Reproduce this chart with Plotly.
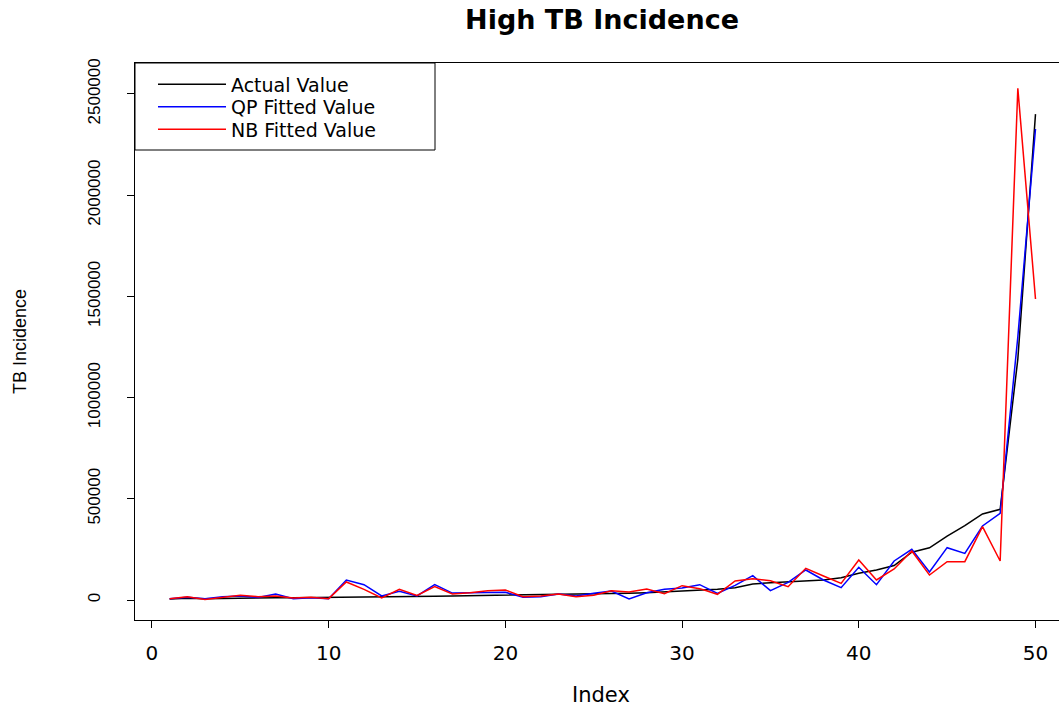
import plotly.graph_objects as go

# Index of each observation
index = list(range(1, 51))

# Observed TB incidence
actual = [5000, 9000, 6000, 8000, 9000, 10000, 11000, 11500, 12000, 12500,
          13000, 14000, 15000, 16000, 17000, 18000, 20000, 21000, 22000, 23000,
          24000, 25000, 26000, 27000, 28000, 30000, 33000, 36000, 40000, 44000,
          48000, 53000, 60000, 79000, 85000, 90000, 94000, 99000, 110000, 132000,
          148000, 170000, 236000, 258000, 316000, 367000, 425000, 448000, 1190000, 2400000]

# Quasi-Poisson fitted values
qp_fitted = [6600, 13000, 6600, 16500, 19800, 13000, 29600, 6600, 11000, 6600,
             98800, 75700, 19800, 42800, 19800, 75700, 34000, 36200, 37900, 37900,
             13200, 16500, 29600, 19800, 32900, 44500, 4900, 36200, 52700, 59300,
             75700, 32900, 72500, 120200, 46100, 87300, 148200, 98800, 60900, 161400,
             75700, 192700, 250300, 138300, 258500, 230500, 365600, 428100, 1300000, 2326700]

# Negative binomial fitted values
nb_fitted = [6600, 16500, 2000, 13200, 23000, 16500, 19800, 9900, 13200, 6600,
             88900, 52700, 9900, 52700, 23000, 65900, 29600, 36200, 46100, 49400,
             16500, 19800, 29600, 16500, 23000, 46100, 39500, 54300, 31300, 70800,
             56000, 28000, 93900, 105000, 95500, 65900, 156400, 118600, 82300, 197600,
             98800, 153100, 242100, 123500, 189400, 189400, 362300, 192700, 2527600, 1487000]

x_ticks = [0, 10, 20, 30, 40, 50]
y_ticks = [0, 500000, 1000000, 1500000, 2000000, 2500000]
y_tick_labels = [str(v) for v in y_ticks]

series_names = ["Actual Value", "QP Fitted Value", "NB Fitted Value"]
series_colors = ["black", "#0000FF", "#FF0000"]
series_values = [actual, qp_fitted, nb_fitted]

W, H = 1060, 708
ML, MR, MT, MB = 135, 1, 63, 88
PW, PH = W - ML - MR, H - MT - MB


def px_x(p):
    return (p - ML) / PW


def px_y(p):
    return (H - MB - p) / PH


fig = go.Figure()
legend_ids = ["legend", "legend2", "legend3"]
for name, color, vals, lid in zip(series_names, series_colors, series_values, legend_ids):
    fig.add_trace(go.Scatter(
        x=index, y=vals, mode="lines", name=name,
        line=dict(color=color, width=1.5),
        legend=lid,
    ))

# one legend per row so the rows can sit as tightly as in a base-R legend box
legend_font = dict(family="DejaVu Sans", size=19, color="black")
row_centres = [84.5, 107, 129.5]
legend_layout = {}
for lid, yc in zip(legend_ids, row_centres):
    legend_layout[lid] = dict(
        x=px_x(153), y=px_y(yc), xanchor="left", yanchor="middle",
        xref="paper", yref="paper",
        bgcolor="rgba(0,0,0,0)", borderwidth=0,
        font=legend_font, itemwidth=68,
    )

fig.update_layout(
    width=W, height=H,
    margin=dict(l=ML, r=MR, t=MT, b=MB, pad=0),
    paper_bgcolor="white", plot_bgcolor="white",
    title=dict(
        text="High TB Incidence",
        font=dict(family="DejaVu Sans", size=27, color="black", weight="bold"),
        x=602 / W, xref="container", xanchor="center",
        y=1 - 20 / H, yref="container", yanchor="middle",
    ),
    xaxis=dict(
        range=[-0.96, 51.33], tickvals=x_ticks,
        showgrid=False, zeroline=False,
        showline=True, linecolor="black", linewidth=1, mirror=True,
        ticks="outside", ticklen=7, tickwidth=1, tickcolor="black",
        tickfont=dict(family="DejaVu Sans", size=20, color="black"),
        ticklabelstandoff=8,
    ),
    yaxis=dict(
        range=[-98800, 2652780], tickvals=y_ticks, ticktext=y_tick_labels,
        tickangle=-90,
        showgrid=False, zeroline=False,
        showline=True, linecolor="black", linewidth=1, mirror=False,
        ticks="outside", ticklen=7, tickwidth=1, tickcolor="black",
        tickfont=dict(family="Liberation Sans", size=17, color="black"),
        ticklabelstandoff=20,
    ),
    shapes=[dict(
        type="rect", xref="paper", yref="paper",
        x0=0, x1=px_x(435), y0=px_y(150), y1=1,
        line=dict(color="black", width=1), fillcolor="white", layer="below",
    )],
    annotations=[
        dict(text="Index", xref="paper", yref="paper",
             x=px_x(601), y=px_y(695), xanchor="center", yanchor="middle",
             showarrow=False,
             font=dict(family="DejaVu Sans", size=21, color="black")),
        dict(text="TB Incidence", xref="paper", yref="paper",
             x=px_x(20), y=px_y(342), xanchor="center", yanchor="middle",
             textangle=-90, showarrow=False,
             font=dict(family="Liberation Sans", size=18, color="black")),
    ],
    showlegend=True,
    **legend_layout,
)

fig.write_html("out.html")
